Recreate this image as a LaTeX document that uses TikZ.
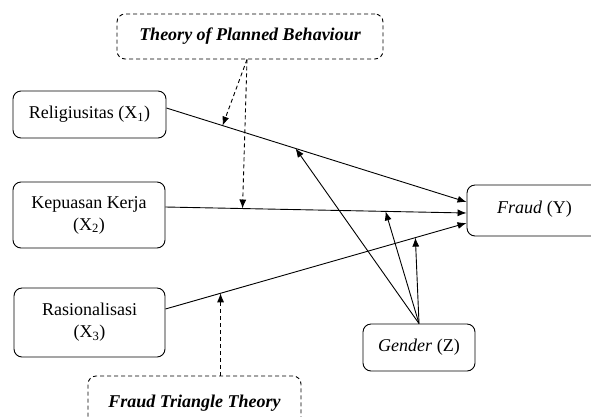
\documentclass[tikz,border=0pt]{standalone}
\usepackage{fontspec}
\setmainfont{Liberation Serif}
\usetikzlibrary{arrows.meta,calc}
\tikzset{
  box/.style={draw, rounded corners=8pt, line width=0.9pt, inner sep=0pt, align=center, font=\fontsize{18}{22}\selectfont},
  theory/.style={box, dashed, dash pattern=on 4pt off 3pt, font=\fontsize{18}{22}\selectfont\bfseries\itshape},
  arr/.style={line width=0.9pt, -{Latex[length=9pt,width=7pt]}},
  darr/.style={arr, dash pattern=on 4pt off 3pt},
}
\begin{document}
\begin{tikzpicture}[x=1pt,y=-1pt]
\useasboundingbox (0,0) rectangle (591,416);
\node[theory, minimum width=266pt, minimum height=45pt] (tpb) at (250,36.5) {Theory of Planned Behaviour};
\node[box, minimum width=153pt, minimum height=47pt] (r1) at (89.5,114.5) {Religiusitas (X\textsubscript{1})};
\node[box, minimum width=152pt, minimum height=66pt] (r2) at (89,215) {Kepuasan Kerja\\(X\textsubscript{2})};
\node[box, minimum width=151pt, minimum height=69pt] (r3) at (89.5,322.5) {Rasionalisasi\\(X\textsubscript{3})};
\node[theory, minimum width=213pt, minimum height=60pt] (ftt) at (194.5,406) {\raisebox{9pt}{Fraud Triangle Theory}};
\node[box, minimum width=135pt, minimum height=51pt] (y) at (534.5,210.5) {\raisebox{7pt}{\itshape Fraud\/\upshape\ (Y)}};
\node[box, minimum width=112pt, minimum height=47pt] (g) at (419,347.5) {\raisebox{4pt}{\itshape Gender\/\upshape\ (Z)}};

\draw[arr] ($(r1.east)+(0,-6.5)$) -- coordinate[pos=0.43] (m1) coordinate[pos=0.187] (t1) ($(y.west)+(0,-8.5)$);
\draw[arr] ($(r2.east)+(0,-8)$) -- coordinate[pos=0.731] (m2) coordinate[pos=0.256] (t2) ($(y.west)+(0,2.5)$);
\draw[arr] ($(r3.east)+(0,-13.5)$) -- coordinate[pos=0.83] (m3) coordinate[pos=0.183] (t3) ($(y.west)+(0,12.5)$);

\draw[arr] (g.north) -- (m1);
\draw[arr] (g.north) -- (m2);
\draw[arr] (g.north) -- (m3);

\draw[darr] ($(tpb.south)+(-3,0)$) -- (t1);
\draw[darr] ($(tpb.south)+(-3,0)$) -- (t2);
\draw[darr] (ftt.north -| t3) -- (t3);
\end{tikzpicture}
\end{document}
